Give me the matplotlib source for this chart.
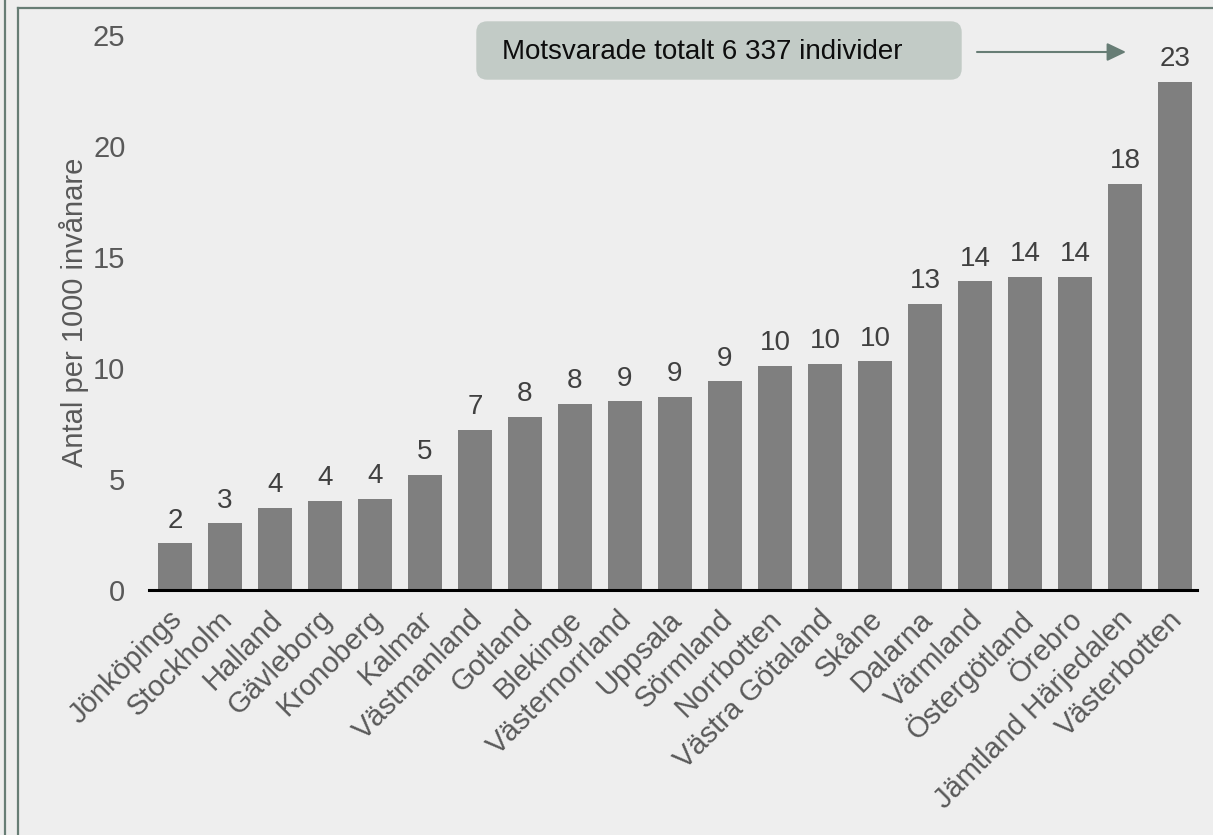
import matplotlib
matplotlib.use("Agg")
import matplotlib.pyplot as plt
import matplotlib.transforms as mtransforms
from matplotlib.lines import Line2D
from matplotlib.patches import FancyBboxPatch

plt.rcParams['font.family'] = ['Liberation Sans', 'DejaVu Sans']

# data
regions = ["Jönköpings", "Stockholm", "Halland", "Gävleborg", "Kronoberg", "Kalmar",
           "Västmanland", "Gotland", "Blekinge", "Västernorrland", "Uppsala", "Sörmland",
           "Norrbotten", "Västra Götaland", "Skåne", "Dalarna", "Värmland", "Östergötland",
           "Örebro", "Jämtland Härjedalen", "Västerbotten"]
per_1000 = [2.1, 3.0, 3.7, 4.0, 4.1, 5.2, 7.2, 7.8, 8.4, 8.5, 8.7, 9.4,
            10.1, 10.2, 10.3, 12.9, 13.9, 14.1, 14.1, 18.3, 22.9]
value_labels = ["2", "3", "4", "4", "4", "5", "7", "8", "8", "9", "9", "9",
                "10", "10", "10", "13", "14", "14", "14", "18", "23"]
yticks = [0, 5, 10, 15, 20, 25]
note_text = "Motsvarade totalt 6 337 individer"

W, H = 1213, 835
bg = "#eeeeee"
bar_col = "#7f7f7f"
frame_col = "#677d75"

fig = plt.figure(figsize=(W / 100, H / 100), dpi=100, facecolor=bg)

def fx(px):
    return px / W

def fy(py):
    return 1 - py / H

# axes placed in pixel terms
ax_l, ax_r, ax_t, ax_b = 149, 1197, 35, 590
ax = fig.add_axes([fx(ax_l), fy(ax_b), (ax_r - ax_l) / W, (ax_b - ax_t) / H])
ax.set_facecolor(bg)

x = list(range(len(regions)))
bars = ax.bar(x, per_1000, width=0.68, color=bar_col, zorder=2)

for xi, v, lab in zip(x, per_1000, value_labels):
    ax.annotate(lab, (xi, v), xytext=(0, 7), textcoords="offset points",
                ha="center", va="bottom", fontsize=20, color="#404040")

ax.set_xlim(-0.52, len(regions) - 1 + 0.44)
ax.set_ylim(0, 25)
ax.set_yticks(yticks)
ax.tick_params(axis="y", length=0, pad=17, labelsize=21, labelcolor="#595959")
ax.tick_params(axis="x", length=0, pad=6, labelsize=21, labelcolor="#595959")
ax.set_xticks(x)
ax.set_xticklabels(regions, rotation=45, ha="right", rotation_mode="anchor")
shift = mtransforms.ScaledTranslation(-7 / 100, -7 / 100, fig.dpi_scale_trans)
for t in ax.get_xticklabels():
    t.set_transform(t.get_transform() + shift)

for s in ["top", "right", "left"]:
    ax.spines[s].set_visible(False)
ax.spines["bottom"].set_linewidth(2.2)
ax.spines["bottom"].set_color("black")
ax.spines["bottom"].set_zorder(3)

ax.set_ylabel("Antal per 1000 invånare", fontsize=21, color="#595959")
ax.yaxis.set_label_coords(-0.057, 0.5)

# note box and arrow
box = FancyBboxPatch((fx(486), fy(70)), fx(466), (70 - 31) / H,
                     boxstyle="round,pad=0.008,rounding_size=0.009",
                     transform=fig.transFigure, facecolor="#c2cbc6",
                     edgecolor="none", mutation_aspect=W / H)
fig.add_artist(box)
fig.text(fx(502), fy(52), note_text, fontsize=20, color="#0d0d0d",
         ha="left", va="center")
ax.annotate("", xy=(fx(1126), fy(52)), xytext=(fx(977), fy(52)),
            xycoords="figure fraction", textcoords="figure fraction",
            arrowprops=dict(arrowstyle="-|>,head_length=1.15,head_width=0.55",
                            color=frame_col, lw=1.5, shrinkA=0, shrinkB=0))

# frame lines of the slide
fig.add_artist(Line2D([fx(4.5), fx(4.5)], [0, 1], color=frame_col, lw=1.6))
fig.add_artist(Line2D([fx(18), fx(18)], [0, fy(7.5)], color=frame_col, lw=1.6))
fig.add_artist(Line2D([fx(18), 1], [fy(7.5), fy(7.5)], color=frame_col, lw=1.6))

fig.savefig("out.png", dpi=100, facecolor=bg)
